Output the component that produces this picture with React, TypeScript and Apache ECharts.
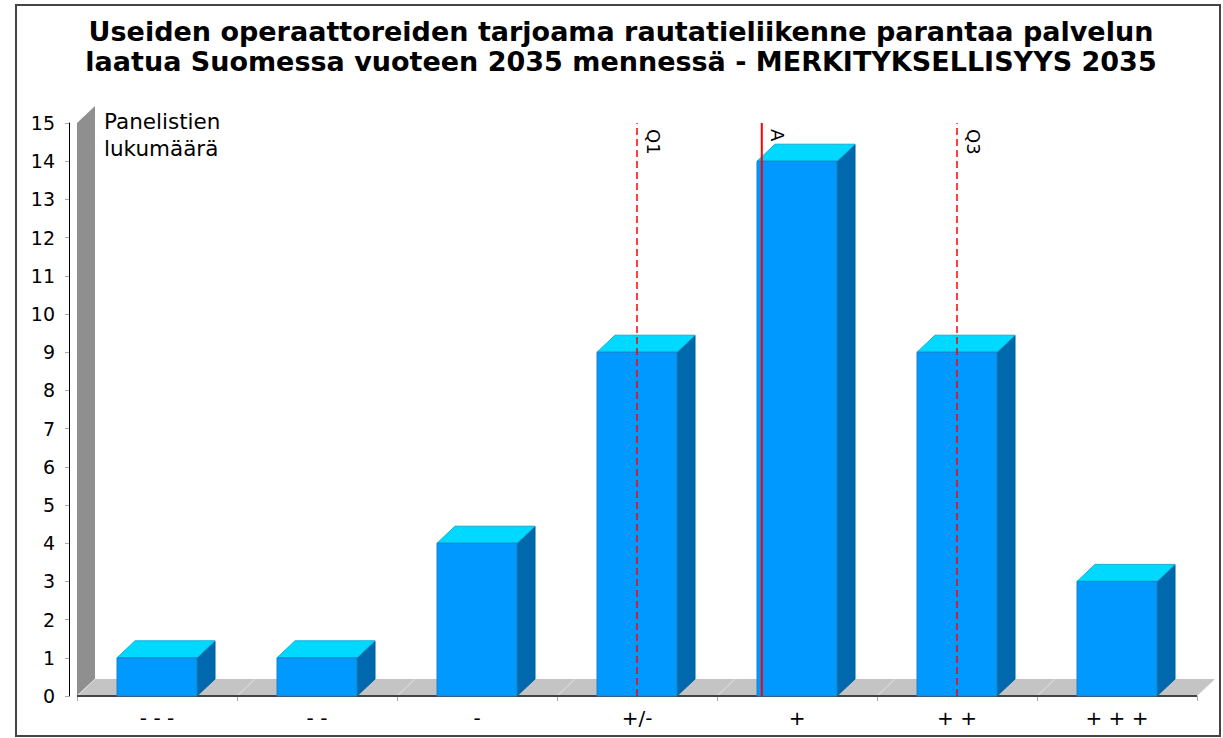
import React, { useEffect, useRef } from 'react';
import * as echarts from 'echarts';

const titleLines = [
  'Useiden operaattoreiden tarjoama rautatieliikenne parantaa palvelun',
  'laatua Suomessa vuoteen 2035 mennessä - MERKITYKSELLISYYS 2035',
];
const axisNoteLines = ['Panelistien', 'lukumäärä'];
const categories = ['- - -', '- -', '-', '+/-', '+', '+ +', '+ + +'];
const counts = [1, 1, 4, 9, 14, 9, 3];
const markerNames = ['Q1', 'A', 'Q3'];
const markerPositions = [3, 3.78, 5];
const markerDashed = [true, false, true];
const yMin = 0;
const yMax = 15;
const yStep = 1;

const FONT = '"DejaVu Sans", sans-serif';
const DX = 18;
const DY = 17;

export default function App() {
  const ref = useRef<HTMLDivElement>(null);

  useEffect(() => {
    if (!ref.current) return;
    const chart = echarts.init(ref.current, null, { renderer: 'svg' });

    const floorSeries = {
      type: 'custom',
      xAxisIndex: 0,
      yAxisIndex: 0,
      z: 1,
      silent: true,
      data: [[0, 0]],
      renderItem: (params: any, api: any) => {
        const cs = params.coordSys;
        const x0 = cs.x;
        const x1 = cs.x + cs.width;
        const yb = api.coord([0, yMin])[1];
        const yt = api.coord([0, yMax])[1];
        const band = cs.width / categories.length;
        const children: any[] = [];
        children.push({
          type: 'polygon',
          shape: { points: [[x0, yb], [x0 + DX, yb - DY], [x0 + DX, yt - DY], [x0, yt]] },
          style: { fill: '#8f8f8f' },
        });
        children.push({
          type: 'polygon',
          shape: { points: [[x0, yb], [x1, yb], [x1 + DX, yb - DY], [x0 + DX, yb - DY]] },
          style: { fill: '#c4c4c4' },
        });
        for (let i = 0; i <= categories.length; i++) {
          const bx = x0 + i * band;
          children.push({
            type: 'line',
            shape: { x1: bx, y1: yb, x2: bx + DX, y2: yb - DY },
            style: { stroke: '#e4e4e4', lineWidth: 1 },
          });
        }
        children.push({
          type: 'line',
          shape: { x1: x0, y1: yb, x2: x1, y2: yb },
          style: { stroke: '#444444', lineWidth: 2 },
        });
        return { type: 'group', children };
      },
    };

    const barSeries = {
      type: 'custom',
      xAxisIndex: 0,
      yAxisIndex: 0,
      z: 2,
      data: counts.map((v, i) => [i, v]),
      renderItem: (params: any, api: any) => {
        const idx = api.value(0);
        const val = api.value(1);
        const top = api.coord([idx, val]);
        const cx = top[0];
        const yTop = top[1];
        const y0 = api.coord([idx, yMin])[1];
        const bw = api.size([1, 0])[0] * 0.5;
        const l = cx - bw / 2;
        const r = cx + bw / 2;
        return {
          type: 'group',
          children: [
            {
              type: 'polygon',
              shape: { points: [[r, y0], [r, yTop], [r + DX, yTop - DY], [r + DX, y0 - DY]] },
              style: { fill: '#0068ad', stroke: '#005c99', lineWidth: 1 },
            },
            {
              type: 'polygon',
              shape: { points: [[l, yTop], [l + DX, yTop - DY], [r + DX, yTop - DY], [r, yTop]] },
              style: { fill: '#00d9ff', stroke: '#14afd2', lineWidth: 1 },
            },
            {
              type: 'rect',
              shape: { x: l, y: yTop, width: bw, height: y0 - yTop },
              style: { fill: '#0099ff', stroke: '#1a80c8', lineWidth: 1 },
            },
          ],
        };
      },
    };

    const markerSeries = {
      type: 'custom',
      xAxisIndex: 1,
      yAxisIndex: 0,
      z: 3,
      silent: true,
      data: markerPositions.map((p) => [p, 0]),
      renderItem: (params: any, api: any) => {
        const i = params.dataIndex;
        const pos = api.value(0);
        const b = api.coord([pos, yMin]);
        const t = api.coord([pos, yMax]);
        return {
          type: 'group',
          children: [
            {
              type: 'line',
              shape: { x1: b[0], y1: b[1], x2: t[0], y2: t[1] },
              style: {
                stroke: '#ff0000',
                lineWidth: markerDashed[i] ? 1.5 : 2,
                lineDash: markerDashed[i] ? [7, 4] : null,
              },
            },
            {
              type: 'text',
              x: t[0] + 7,
              y: t[1] + 6,
              rotation: -Math.PI / 2,
              style: {
                text: markerNames[i],
                font: '18px ' + FONT,
                fill: '#000',
                align: 'left',
                verticalAlign: 'bottom',
              },
            },
          ],
        };
      },
    };

    const option: any = {
      animation: false,
      backgroundColor: '#ffffff',
      grid: { left: 77, right: 26, top: 123, bottom: 42 },
      xAxis: [
        {
          type: 'category',
          data: categories,
          boundaryGap: true,
          axisLine: { show: false },
          axisTick: { show: true, length: 5, lineStyle: { color: '#aaaaaa' } },
          axisLabel: { color: '#000', fontSize: 20, fontFamily: FONT, margin: 12 },
          splitLine: { show: false },
        },
        { type: 'value', min: -0.5, max: 6.5, show: false },
      ],
      yAxis: {
        type: 'value',
        min: yMin,
        max: yMax,
        interval: yStep,
        offset: 8,
        axisLine: { show: true, onZero: false, lineStyle: { color: '#000', width: 1 } },
        axisTick: { show: true, length: 4, lineStyle: { color: '#aaaaaa' } },
        axisLabel: { color: '#000', fontSize: 19, fontFamily: FONT, margin: 14 },
        splitLine: { show: false },
      },
      graphic: [
        {
          type: 'rect',
          shape: { x: 16, y: 5, width: 1204, height: 731 },
          style: { fill: 'none', stroke: '#444', lineWidth: 2 },
          silent: true,
        },
        ...titleLines.map((t, i) => ({
          type: 'text',
          x: 621,
          y: 31 + i * 30,
          style: {
            text: t,
            font: 'bold 27px ' + FONT,
            fill: '#000',
            align: 'center',
            verticalAlign: 'middle',
          },
        })),
        ...axisNoteLines.map((t, i) => ({
          type: 'text',
          x: 104,
          y: 121 + i * 27,
          style: {
            text: t,
            font: '21.5px ' + FONT,
            fill: '#000',
            align: 'left',
            verticalAlign: 'middle',
          },
        })),
      ],
      series: [floorSeries, barSeries, markerSeries],
    };

    chart.setOption(option);
    return () => chart.dispose();
  }, []);

  return (
    <div
      ref={ref}
      style={{ position: 'absolute', left: 0, top: 0, width: 1223, height: 738, background: '#fff' }}
    />
  );
}
